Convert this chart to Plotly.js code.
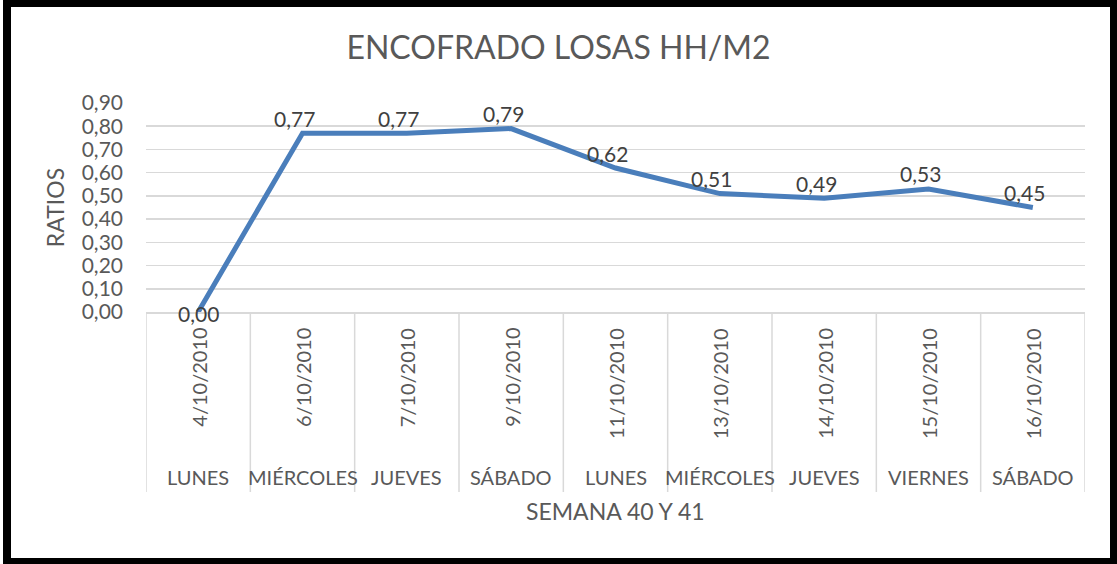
<!DOCTYPE html>
<html>
<head>
<meta charset="utf-8">
<script src="https://cdn.plot.ly/plotly-3.0.1.min.js"></script>
<style>
  html, body { margin: 0; padding: 0; background: #ffffff; }
  #wrap { position: relative; width: 1117px; height: 564px; }
  #chart { position: absolute; left: 0; top: 0; width: 1117px; height: 564px; }
  #frame { position: absolute; left: 3px; top: 0; right: 0; bottom: 0;
           border-style: solid; border-color: #000; border-width: 7px 7px 6px 8px;
           pointer-events: none; box-sizing: border-box; }
</style>
</head>
<body>
<div id="wrap">
  <div id="chart"></div>
  <div id="frame"></div>
</div>
<script>
// ---- data ----
const dates  = ["4/10/2010", "6/10/2010", "7/10/2010", "9/10/2010", "11/10/2010",
                "13/10/2010", "14/10/2010", "15/10/2010", "16/10/2010"];
const days   = ["LUNES", "MIÉRCOLES", "JUEVES", "SÁBADO", "LUNES",
                "MIÉRCOLES", "JUEVES", "VIERNES", "SÁBADO"];
const ratios = [0.00, 0.77, 0.77, 0.79, 0.62, 0.51, 0.49, 0.53, 0.45];
const yTicks = [0, 0.1, 0.2, 0.3, 0.4, 0.5, 0.6, 0.7, 0.8, 0.9];

const chartTitle = "ENCOFRADO LOSAS HH/M2";
const xTitle = "SEMANA 40 Y 41";
const yTitle = "RATIOS";

// ---- styling ----
const FONT = "Lato, 'Noto Sans', sans-serif";
const GREY = "#595959";
const GRID = "#d9d9d9";
const plotTop = 103, plotBottom = 312;
const plotH = plotBottom - plotTop;

const fmt = v => v.toFixed(2).replace(".", ",");

const annotations = [];
// data labels
dates.forEach((d, i) => {
  const v = ratios[i];
  annotations.push({
    x: d, y: v, xref: "x", yref: "y",
    text: fmt(v), showarrow: false,
    xanchor: "center", yanchor: "middle",
    xshift: v === 0 ? 0 : -8, yshift: v === 0 ? -1 : 15,
    font: { family: FONT, size: 21, color: "#404040" }
  });
});
// date labels (inner level)
dates.forEach(d => {
  annotations.push({
    x: d, y: 0, xref: "x", yref: "paper",
    text: d, showarrow: false, textangle: -90,
    xanchor: "center", yanchor: "top", yshift: -14,
    font: { family: FONT, size: 20, color: GREY }
  });
});
// day labels (outer level)
dates.forEach((d, i) => {
  annotations.push({
    x: d, y: 0, xref: "x", yref: "paper",
    text: days[i], showarrow: false,
    xanchor: "center", yanchor: "middle", yshift: -165,
    font: { family: FONT, size: 20, color: GREY }
  });
});
// x axis title
annotations.push({
  x: 0.5, y: 0, xref: "paper", yref: "paper",
  text: xTitle, showarrow: false,
  xanchor: "center", yanchor: "middle", yshift: -199,
  font: { family: FONT, size: 23, color: GREY }
});

// category separators
const shapes = [];
for (let i = 0; i <= dates.length; i++) {
  shapes.push({
    type: "line", xref: "x", yref: "paper",
    x0: i - 0.5, x1: i - 0.5, y0: 0, y1: -(492 - plotBottom) / plotH,
    line: { color: GRID, width: 1.5 }
  });
}

const trace = {
  x: dates, y: ratios, type: "scatter", mode: "lines",
  line: { color: "#4a7ebb", width: 5 },
  hoverinfo: "skip", showlegend: false, cliponaxis: false
};

const layout = {
  width: 1117, height: 564,
  paper_bgcolor: "#ffffff", plot_bgcolor: "#ffffff",
  separators: ",.",
  margin: { l: 146, r: 32, t: plotTop, b: 564 - plotBottom, pad: 0 },
  title: {
    text: chartTitle, x: 0.5, xref: "container", xanchor: "center",
    y: 1 - 48 / 564, yanchor: "middle",
    font: { family: FONT, size: 32, color: GREY }
  },
  xaxis: {
    type: "category", range: [-0.5, dates.length - 0.5],
    showticklabels: false, ticks: "", showgrid: false, zeroline: false,
    showline: true, linecolor: GRID, linewidth: 1.5, fixedrange: true
  },
  yaxis: {
    range: [0, 0.9], tickvals: yTicks, tickformat: ".2f",
    ticks: "", ticklabelstandoff: 22,
    showgrid: true, gridcolor: GRID, gridwidth: 1.5,
    zeroline: false, showline: false,
    tickfont: { family: FONT, size: 21, color: GREY },
    title: { text: yTitle, standoff: 10, font: { family: FONT, size: 23, color: GREY } },
    fixedrange: true
  },
  annotations: annotations,
  shapes: shapes
};

Plotly.newPlot("chart", [trace], layout, { staticPlot: true, displayModeBar: false });
</script>
</body>
</html>
